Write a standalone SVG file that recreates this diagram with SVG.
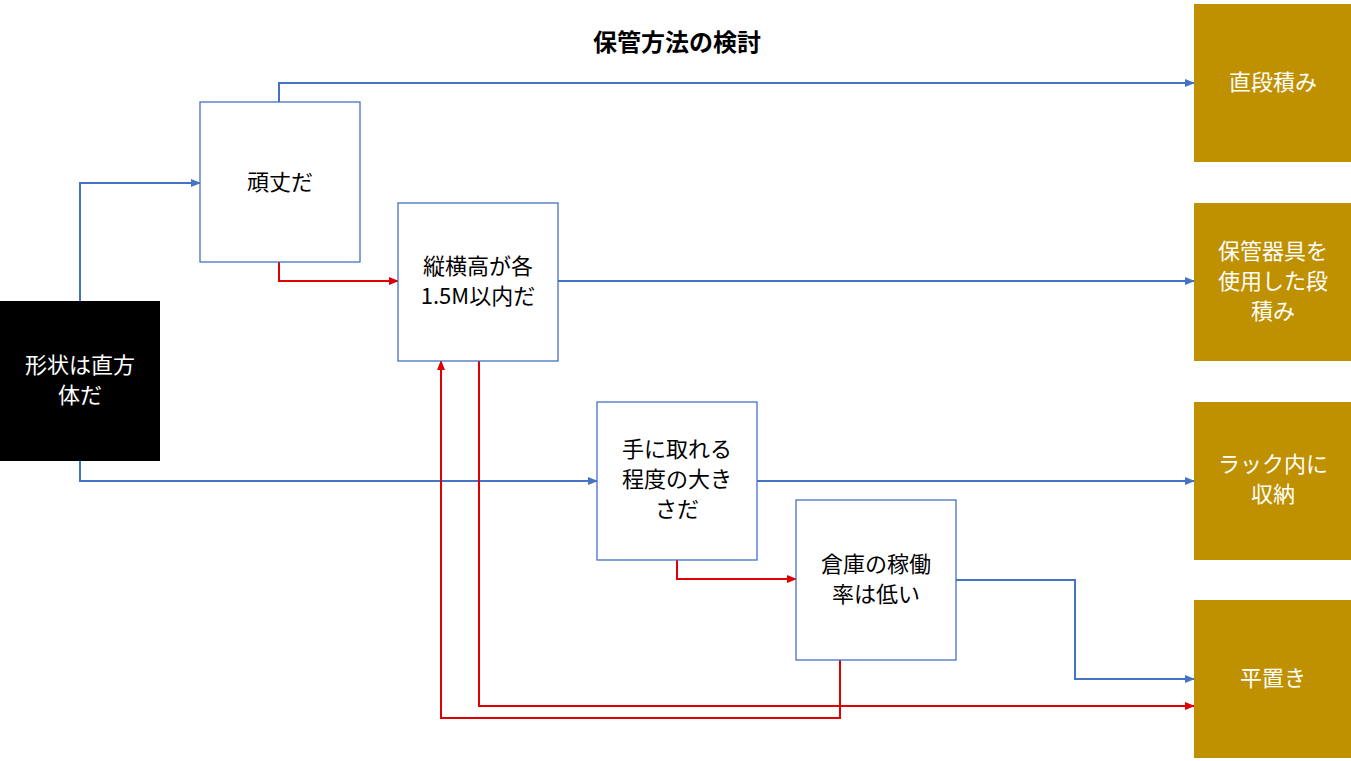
<svg xmlns="http://www.w3.org/2000/svg" width="1351" height="761" viewBox="0 0 1351 761">
<style>
text{font-family:"Noto Sans CJK JP","Noto Sans",sans-serif;font-size:22px;text-anchor:middle}
.n{fill:#fff;stroke:#4472C4;stroke-width:1.3}
.g{fill:#BF9000}
.gt{fill:#fff}
.b{fill:none;stroke:#4472C4;stroke-width:2;marker-end:url(#ab)}
.r{fill:none;stroke:#E00000;stroke-width:2;marker-end:url(#ar)}
</style>
<defs>
<marker id="ab" markerWidth="10" markerHeight="8" refX="9" refY="4" orient="auto" markerUnits="userSpaceOnUse"><path d="M0,0L10,4L0,8z" fill="#4472C4"/></marker>
<marker id="ar" markerWidth="10" markerHeight="8" refX="9" refY="4" orient="auto" markerUnits="userSpaceOnUse"><path d="M0,0L10,4L0,8z" fill="#E00000"/></marker>
</defs>
<rect width="1351" height="761" fill="#fff"/>
<text x="677" y="51" style="font-weight:bold;font-size:24px">保管方法の検討</text>
<g id="connectors">
<path class="b" d="M80,301V183H200"/>
<path class="b" d="M279,102V83H1194"/>
<path class="b" d="M558,281H1194"/>
<path class="b" d="M80,461V481H597"/>
<path class="b" d="M757,481H1194"/>
<path class="b" d="M956,580H1075V679H1194"/>
<path class="r" d="M279,262V281H398"/>
<path class="r" d="M479,361V706H1194"/>
<path class="r" d="M677,560V579H796"/>
<path class="r" d="M840,660V718H441V361"/>
</g>
<g id="shape"><rect x="0" y="301" width="160" height="160" fill="#000"/><text x="80" y="373" fill="#fff">形状は直方</text><text x="80" y="403" fill="#fff">体だ</text></g>
<g id="ganjou"><rect class="n" x="200" y="102" width="160" height="160"/><text x="280" y="190">頑丈だ</text></g>
<g id="size15"><rect class="n" x="398" y="203" width="160" height="158"/><text x="478" y="274">縦横高が各</text><text x="478" y="304">1.5M以内だ</text></g>
<g id="hand"><rect class="n" x="597" y="402" width="160" height="158"/><text x="677" y="457">手に取れる</text><text x="677" y="487">程度の大き</text><text x="677" y="517">さだ</text></g>
<g id="souko"><rect class="n" x="796" y="500" width="160" height="160"/><text x="876" y="572">倉庫の稼働</text><text x="876" y="602">率は低い</text></g>
<g id="o1"><rect class="g" x="1194" y="4" width="157" height="158"/><text class="gt" x="1273" y="90">直段積み</text></g>
<g id="o2"><rect class="g" x="1194" y="203" width="157" height="158"/><text class="gt" x="1273" y="259">保管器具を</text><text class="gt" x="1273" y="289">使用した段</text><text class="gt" x="1273" y="319">積み</text></g>
<g id="o3"><rect class="g" x="1194" y="402" width="157" height="158"/><text class="gt" x="1273" y="472">ラック内に</text><text class="gt" x="1273" y="502">収納</text></g>
<g id="o4"><rect class="g" x="1194" y="600" width="157" height="158"/><text class="gt" x="1273" y="686">平置き</text></g>
</svg>
